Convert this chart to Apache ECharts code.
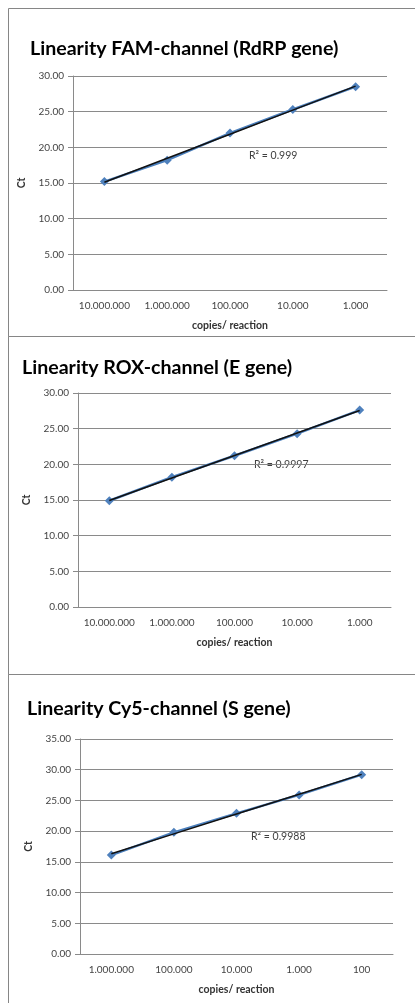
<!DOCTYPE html>
<html>
<head>
<meta charset="utf-8">
<script src="https://cdn.jsdelivr.net/npm/echarts@6/dist/echarts.min.js"></script>
<style>
  html, body { margin: 0; padding: 0; background: #fff; }
  #chart { width: 415px; height: 1003px; }
</style>
</head>
<body>
<div id="chart"></div>
<script>
// values
var titles = ['Linearity FAM-channel (RdRP gene)', 'Linearity ROX-channel (E gene)', 'Linearity Cy5-channel (S gene)'];
var famLabels = ['10.000.000', '1.000.000', '100.000', '10.000', '1.000'];
var famCt = [15.2, 18.2, 22.0, 25.3, 28.5];
var roxLabels = ['10.000.000', '1.000.000', '100.000', '10.000', '1.000'];
var roxCt = [14.9, 18.2, 21.2, 24.3, 27.6];
var cy5Labels = ['1.000.000', '100.000', '10.000', '1.000', '100'];
var cy5Ct = [16.1, 19.8, 22.9, 25.9, 29.2];
var yMax = [30, 30, 35];
var r2 = ['0.999', '0.9997', '0.9988'];

var labels = [famLabels, roxLabels, cy5Labels];
var cts = [famCt, roxCt, cy5Ct];

// layout per panel
var grids = [
  { left: 73, top: 76, width: 314, height: 214 },
  { left: 78, top: 393, width: 313, height: 214 },
  { left: 80, top: 739, width: 313, height: 215 }
];
var titlePos = [{ left: 30, top: 39 }, { left: 22, top: 358 }, { left: 27, top: 699 }];
var r2Pos = [[249, 150], [254, 459], [251, 831]];
var boxes = [[8, 8, 336], [8, 336, 674], [8, 674, 1010]];

// linear trendline (least squares) like Excel's
function trend(vals) {
  var n = vals.length, sx = 0, sy = 0, sxy = 0, sxx = 0;
  vals.forEach(function (v, i) { sx += i; sy += v; sxy += i * v; sxx += i * i; });
  var b = (n * sxy - sx * sy) / (n * sxx - sx * sx);
  var a = (sy - b * sx) / n;
  return vals.map(function (v, i) { return +(a + b * i).toFixed(3); });
}

var font = 'Lato, "Open Sans", sans-serif';
var gray = '#8a8a8a';

var option = { animation: false, title: [], grid: [], xAxis: [], yAxis: [], series: [], graphic: [] };

for (var k = 0; k < 3; k++) {
  option.title.push({
    text: titles[k], left: titlePos[k].left, top: titlePos[k].top, padding: 0,
    textStyle: { fontFamily: font, fontSize: 19.6, fontWeight: 'bold', color: '#000' }
  });
  option.grid.push(grids[k]);
  option.xAxis.push({
    type: 'category', gridIndex: k, data: labels[k], boundaryGap: true,
    name: 'copies/ reaction', nameLocation: 'middle', nameGap: 30,
    nameTextStyle: { fontFamily: font, fontSize: 10.5, fontWeight: 'bold', color: '#333' },
    axisLine: { lineStyle: { color: gray } },
    axisTick: { length: 5, lineStyle: { color: gray } },
    axisLabel: { fontFamily: font, fontSize: 10, color: '#444', margin: 11, interval: 0 }
  });
  option.yAxis.push({
    type: 'value', gridIndex: k, min: 0, max: yMax[k], interval: 5,
    name: 'Ct', nameLocation: 'middle', nameGap: 43, nameRotate: 90,
    nameTextStyle: { fontFamily: font, fontSize: 10.5, fontWeight: 'bold', color: '#333' },
    axisLine: { show: true, lineStyle: { color: gray } },
    axisTick: { show: true, length: 5, lineStyle: { color: gray } },
    axisLabel: { fontFamily: font, fontSize: 10, color: '#444', margin: 9,
      formatter: function (v) { return v.toFixed(2); } },
    splitLine: { lineStyle: { color: gray } }
  });
  option.series.push({
    type: 'line', xAxisIndex: k, yAxisIndex: k, data: cts[k],
    symbol: 'diamond', symbolSize: 9,
    lineStyle: { color: '#4A7EBB', width: 2.5 },
    itemStyle: { color: '#4F81BD' }, z: 2
  });
  option.series.push({
    type: 'line', xAxisIndex: k, yAxisIndex: k, data: trend(cts[k]),
    symbol: 'none', lineStyle: { color: '#111', width: 1.5 }, z: 3
  });
  option.graphic.push({
    type: 'text', left: r2Pos[k][0], top: r2Pos[k][1],
    style: { text: 'R² = ' + r2[k], font: '10.5px ' + font, fill: '#404040' }
  });
  option.graphic.push({
    type: 'rect', z: -1, silent: true,
    shape: { x: boxes[k][0] + 0.5, y: boxes[k][1] + 0.5, width: 430, height: boxes[k][2] - boxes[k][1] },
    style: { fill: 'none', stroke: '#868686', lineWidth: 1 }
  });
}

var chart = echarts.init(document.getElementById('chart'));
chart.setOption(option);
</script>
</body>
</html>
